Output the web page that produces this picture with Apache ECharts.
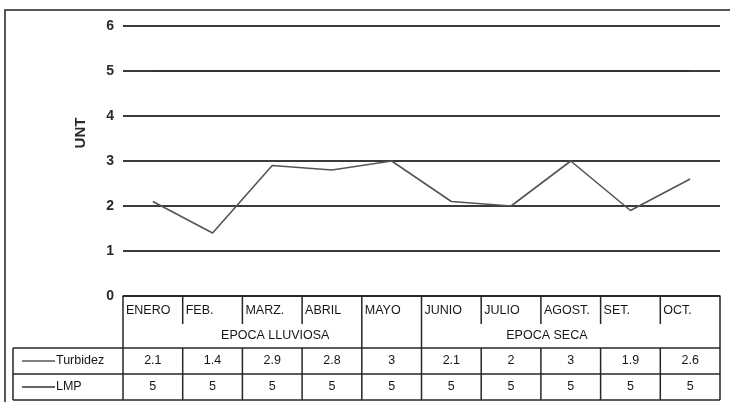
<!DOCTYPE html>
<html>
<head>
<meta charset="utf-8">
<script src="https://cdn.jsdelivr.net/npm/echarts@6/dist/echarts.min.js"></script>
<style>
  html, body { margin: 0; padding: 0; background: #fff; }
  #chart { width: 730px; height: 402px; }
</style>
</head>
<body>
<div id="chart"></div>
<script>
// Monthly turbidity against the maximum permissible limit (LMP)
const months = ['ENERO', 'FEB.', 'MARZ.', 'ABRIL', 'MAYO', 'JUNIO', 'JULIO', 'AGOST.', 'SET.', 'OCT.'];
const turbidez = [2.1, 1.4, 2.9, 2.8, 3, 2.1, 2, 3, 1.9, 2.6];
const lmp = [5, 5, 5, 5, 5, 5, 5, 5, 5, 5];
const seriesNames = ['Turbidez', 'LMP'];
const yTicks = [0, 1, 2, 3, 4, 5, 6];
// seasons: label plus first/last month index they cover
const seasonNames = ['EPOCA LLUVIOSA', 'EPOCA SECA'];
const seasonFrom = [0, 5];
const seasonTo = [3, 9];

// table layout (pixels below the zero line) and label anchors
const ROW_EDGES = [0, 28, 52, 78, 104];
const SEASON_LABEL_AT = [2.05, 6.6];   // category position of each season caption
const LEGEND_COL = 110;                // width of the series-name column
const INK = '#262626';
const TABLE_FONT = "'Liberation Sans Narrow', 'Liberation Sans', sans-serif";

function renderTable(params, api) {
  const n = months.length;
  const w = api.size([1, 0])[0];
  const origin = api.coord([0, 0]);
  const base = origin[1];
  const left = origin[0] - w / 2;
  const right = left + n * w;
  const R = ROW_EDGES.map(r => base + r);
  const legLeft = left - LEGEND_COL;
  const kids = [];
  const line = (x1, y1, x2, y2, color, lw) => kids.push({
    type: 'line', shape: { x1, y1, x2, y2 },
    style: { stroke: color || INK, lineWidth: lw || 1.5 }
  });
  const text = (t, x, y, align) => kids.push({
    type: 'text',
    style: { text: t, x, y, align, verticalAlign: 'middle',
             fontSize: 12.5, fontFamily: TABLE_FONT, fill: '#161616' }
  });

  // horizontal rules
  line(legLeft, R[2], right, R[2]);
  line(legLeft, R[3], right, R[3]);
  line(legLeft, R[4], right, R[4]);

  // vertical rules: season edges run through the whole header
  const fullEdges = new Set();
  seasonFrom.forEach(i => fullEdges.add(i));
  seasonTo.forEach(i => fullEdges.add(i + 1));
  for (let k = 0; k <= n; k++) {
    const x = left + k * w;
    line(x, R[0], x, fullEdges.has(k) ? R[2] : R[1]);
    line(x, R[2], x, R[4]);
  }
  line(legLeft, R[2], legLeft, R[4]);

  // month captions
  months.forEach((m, i) => text(m, left + i * w + 3, (R[0] + R[1]) / 2 + 1, 'left'));
  // season captions
  seasonNames.forEach((s, j) =>
    text(s, left + (SEASON_LABEL_AT[j] + 0.5) * w, (R[1] + R[2]) / 2, 'center'));

  // value rows
  const rows = [turbidez, lmp];
  const rowColors = ['#555', '#333'];
  rows.forEach((vals, r) => {
    const yMid = (R[2 + r] + R[3 + r]) / 2;
    vals.forEach((v, i) => text(String(v), left + (i + 0.5) * w, yMid, 'center'));
    line(legLeft + 9, yMid, legLeft + 42, yMid, rowColors[r], 1.3);
    text(seriesNames[r], legLeft + 43, yMid, 'left');
  });

  return { type: 'group', children: kids };
}

const chart = echarts.init(document.getElementById('chart'), null, { renderer: 'canvas' });
chart.setOption({
  animation: false,
  backgroundColor: '#fff',
  grid: { left: 123, right: 10, top: 26, bottom: 106 },
  xAxis: {
    type: 'category',
    data: months,
    boundaryGap: true,
    axisLine: { show: true, lineStyle: { color: INK, width: 1.5 } },
    axisTick: { show: false },
    axisLabel: { show: false },
    splitLine: { show: false }
  },
  yAxis: {
    type: 'value',
    min: yTicks[0],
    max: yTicks[yTicks.length - 1],
    interval: 1,
    name: 'UNT',
    nameLocation: 'middle',
    nameGap: 35,
    nameRotate: 90,
    nameTextStyle: {
      fontWeight: 'bold', fontSize: 15, color: '#2a2a2a',
      fontFamily: 'Liberation Sans', padding: [0, 0, 0, 56]
    },
    axisLine: { show: false },
    axisTick: { show: false },
    axisLabel: {
      fontWeight: 'bold', fontSize: 14, color: '#2a2a2a',
      fontFamily: 'Liberation Sans', margin: 9
    },
    splitLine: { lineStyle: { color: '#3a3a3a', width: 2 } }
  },
  series: [
    {
      name: seriesNames[1],
      type: 'line',
      data: lmp,
      symbol: 'none',
      lineStyle: { color: '#333', width: 2 },
      z: 3
    },
    {
      name: seriesNames[0],
      type: 'line',
      data: turbidez,
      symbol: 'none',
      lineStyle: { color: '#555', width: 1.6 },
      z: 4
    },
    {
      type: 'custom',
      data: [[0, 0]],
      clip: false,
      silent: true,
      renderItem: renderTable,
      z: 5
    }
  ],
  graphic: [{
    type: 'rect',
    silent: true,
    shape: { x: 5, y: 10, width: 800, height: 500 },
    style: { fill: 'none', stroke: '#222', lineWidth: 1.5 }
  }]
});
</script>
</body>
</html>
